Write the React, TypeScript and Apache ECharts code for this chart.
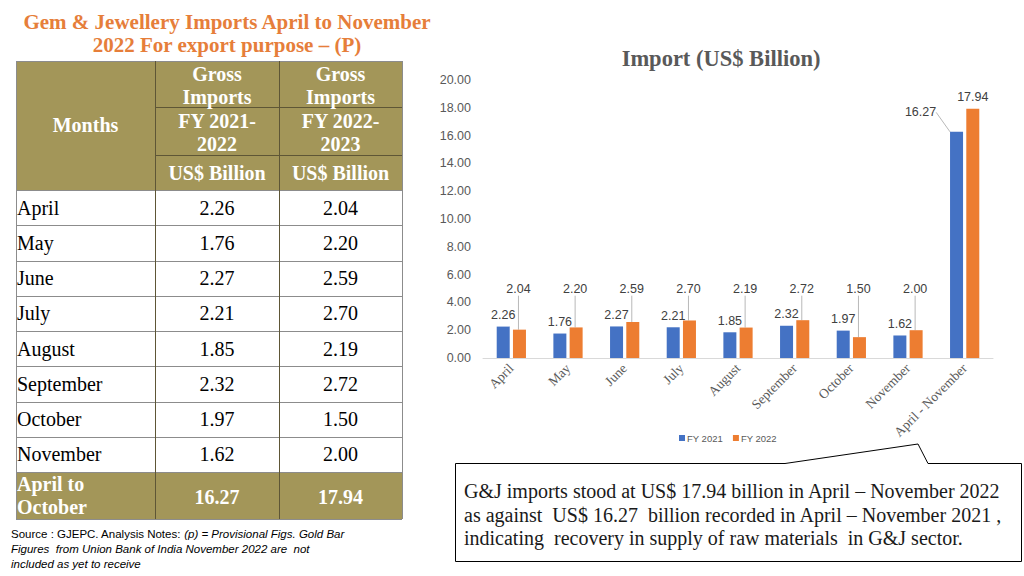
import React, { useEffect, useRef } from "react";
import * as echarts from "echarts";

const months = ["April", "May", "June", "July", "August", "September", "October", "November"];
const fy2021 = [2.26, 1.76, 2.27, 2.21, 1.85, 2.32, 1.97, 1.62];
const fy2022 = [2.04, 2.2, 2.59, 2.7, 2.19, 2.72, 1.5, 2.0];
const total2021 = 16.27;
const total2022 = 17.94;
const totalCategory = "April - November";
const totalRowLabel = "April to\nOctober";
const seriesNames = ["FY 2021", "FY 2022"];
const headerCol2 = ["Gross\nImports", "FY 2021-\n2022", "US$ Billion"];
const headerCol3 = ["Gross\nImports", "FY 2022-\n2023", "US$ Billion"];
const calloutLines = [
  "G&J imports stood at US$ 17.94 billion in April – November 2022",
  "as against  US$ 16.27  billion recorded in April – November 2021 ,",
  "indicating  recovery in supply of raw materials  in G&J sector.",
];

const SERIF = "'Liberation Serif', 'DejaVu Serif', serif";
const SANS = "'Liberation Sans', Arial, sans-serif";
const OLIVE = "#A39659";
const BLUE = "#4472C4";
const ORANGE = "#ED7D31";

function buildTable(): any[] {
  const L = 16, C1 = 155, C2 = 279, R = 402;
  const top = 61, h1 = 107, h2 = 155, hEnd = 190;
  const rowH = 35.25;
  const totalTop = hEnd + months.length * rowH;
  const totalBottom = totalTop + 47;
  const els: any[] = [];
  const gridLine = "#8C8C8C";
  const headLine = "#5E5636";
  els.push({ type: "rect", shape: { x: L, y: top, width: R - L, height: hEnd - top }, style: { fill: OLIVE } });
  els.push({ type: "rect", shape: { x: L, y: totalTop, width: R - L, height: totalBottom - totalTop }, style: { fill: OLIVE } });
  const hl = (x1: number, y1: number, x2: number, y2: number, c: string) =>
    els.push({ type: "line", shape: { x1, y1, x2, y2 }, style: { stroke: c, lineWidth: 1 } });
  hl(L + 0.5, top, L + 0.5, totalBottom, gridLine);
  hl(R + 0.5, top, R + 0.5, totalBottom, gridLine);
  hl(L, top + 0.5, R, top + 0.5, gridLine);
  for (let i = 0; i <= months.length; i++) {
    const y = Math.round(hEnd + i * rowH) + 0.5;
    hl(L, y, R, y, gridLine);
  }
  hl(L, totalBottom + 0.5, R, totalBottom + 0.5, gridLine);
  hl(C1 + 0.5, top, C1 + 0.5, totalBottom, headLine);
  hl(C2 + 0.5, top, C2 + 0.5, totalBottom, headLine);
  hl(C1, h1 + 0.5, R, h1 + 0.5, headLine);
  hl(C1, h2 + 0.5, R, h2 + 0.5, headLine);

  const headStyle = { fill: "#FFFFFF", font: `bold 20px ${SERIF}`, align: "center", verticalAlign: "middle", lineHeight: 23 };
  els.push({ type: "text", x: (L + C1) / 2, y: (top + hEnd) / 2 - 1, style: { ...headStyle, text: "Months" } });
  const hy = [(top + h1) / 2 + 1, (h1 + h2) / 2 + 1, (h2 + hEnd) / 2];
  headerCol2.forEach((t, i) => els.push({ type: "text", x: (C1 + C2) / 2, y: hy[i], style: { ...headStyle, text: t } }));
  headerCol3.forEach((t, i) => els.push({ type: "text", x: (C2 + R) / 2, y: hy[i], style: { ...headStyle, text: t } }));

  const cell = { fill: "#000000", font: `20px ${SERIF}`, verticalAlign: "middle" };
  months.forEach((m, i) => {
    const cy = hEnd + i * rowH + rowH / 2;
    els.push({ type: "text", x: L + 1, y: cy, style: { ...cell, text: m, align: "left" } });
    els.push({ type: "text", x: (C1 + C2) / 2, y: cy, style: { ...cell, text: fy2021[i].toFixed(2), align: "center" } });
    els.push({ type: "text", x: (C2 + R) / 2, y: cy, style: { ...cell, text: fy2022[i].toFixed(2), align: "center" } });
  });
  const tcy = (totalTop + totalBottom) / 2;
  const tot = { fill: "#FFFFFF", font: `bold 20px ${SERIF}`, verticalAlign: "middle", lineHeight: 23 };
  els.push({ type: "text", x: L + 1, y: tcy, style: { ...tot, text: totalRowLabel, align: "left" } });
  els.push({ type: "text", x: (C1 + C2) / 2, y: tcy + 1, style: { ...tot, text: total2021.toFixed(2), align: "center" } });
  els.push({ type: "text", x: (C2 + R) / 2, y: tcy + 1, style: { ...tot, text: total2022.toFixed(2), align: "center" } });
  return els;
}

function buildOthers(): any[] {
  const els: any[] = [];
  els.push({
    type: "text", x: 227, y: 33,
    style: { text: "Gem & Jewellery Imports April to November\n2022 For export purpose – (P)", fill: "#E67E3A", font: `bold 21px ${SERIF}`, align: "center", verticalAlign: "middle", lineHeight: 23 },
  });
  els.push({
    type: "text", x: 11, y: 526.5,
    style: {
      text: "{n|Source : GJEPC. Analysis Notes: }{i|(p) = Provisional Figs. Gold Bar}\n{i|Figures  from Union Bank of India November 2022 are  not}\n{i|included as yet to receive}",
      verticalAlign: "top", lineHeight: 15,
      rich: {
        n: { font: `11.5px ${SANS}`, fill: "#000000", lineHeight: 15 },
        i: { font: `italic 11.5px ${SANS}`, fill: "#000000", lineHeight: 15 },
      },
    },
  });
  els.push({
    type: "polygon",
    shape: { points: [[455.5, 463.5], [785, 463.5], [918, 444], [928, 463.5], [1021.5, 463.5], [1021.5, 561.5], [455.5, 561.5]] },
    style: { fill: "#FFFFFF", stroke: "#000000", lineWidth: 1 },
  });
  calloutLines.forEach((t, i) => {
    els.push({ type: "text", x: 464, y: 491 + i * 23.5, style: { text: t, fill: "#1A1A1A", font: `20px ${SERIF}`, verticalAlign: "middle", align: "left" } });
  });
  return els;
}

export default function App() {
  const ref = useRef<HTMLDivElement>(null);
  useEffect(() => {
    if (!ref.current) return;
    const chart = echarts.init(ref.current, undefined, { renderer: "svg" });
    const categories = [...months, totalCategory];
    const blueData = [...fy2021, total2021];
    const orangeData = [...fy2022, total2022];
    const labelValueLevel = 4.95;
    chart.setOption({
      animation: false,
      backgroundColor: "#FFFFFF",
      title: {
        text: "Import (US$ Billion)", left: 716, top: 42, textAlign: "center",
        textStyle: { fontFamily: SERIF, fontWeight: "bold", fontSize: 22.5, color: "#595959" },
      },
      legend: {
        data: seriesNames, left: 674, top: 428, itemWidth: 6, itemHeight: 6, itemGap: 10, icon: "rect",
        textStyle: { fontFamily: SANS, fontSize: 9.5, color: "#595959", padding: [0, 0, 0, -3] },
      },
      grid: { left: 483, right: 31, top: 80, bottom: 218 },
      xAxis: {
        type: "category", data: categories,
        axisLine: { lineStyle: { color: "#D9D9D9" } },
        axisTick: { show: false },
        axisLabel: { rotate: 45, interval: 0, fontFamily: SERIF, fontSize: 13.5, color: "#595959", margin: 8 },
      },
      yAxis: {
        type: "value", min: 0, max: 20, interval: 2,
        splitLine: { show: false },
        axisLine: { show: false }, axisTick: { show: false },
        axisLabel: { formatter: (v: number) => v.toFixed(2), fontFamily: SANS, fontSize: 12.5, color: "#595959", margin: 12 },
      },
      series: [
        {
          name: seriesNames[0], type: "bar", barWidth: 13, barGap: "25%",
          itemStyle: { color: BLUE },
          data: blueData.map((v, i) => ({ value: v, labelLine: { show: i === blueData.length - 1 } })),
          label: { show: true, position: "top", distance: 5, formatter: (p: any) => p.value.toFixed(2), fontFamily: SANS, fontSize: 12.5, color: "#404040" },
          labelLine: { show: false, lineStyle: { color: "#A6A6A6", width: 0.8 } },
          labelLayout: (p: any) => (p.dataIndex === blueData.length - 1 ? { dx: -36, dy: -8 } : {}),
        },
        {
          name: seriesNames[1], type: "bar", barWidth: 13,
          itemStyle: { color: ORANGE },
          data: orangeData.map((v, i) => ({ value: v, labelLine: { show: i !== orangeData.length - 1 } })),
          label: { show: true, position: "top", distance: 5, formatter: (p: any) => p.value.toFixed(2), fontFamily: SANS, fontSize: 12.5, color: "#404040" },
          labelLine: { show: true, lineStyle: { color: "#A6A6A6", width: 0.8 } },
          labelLayout: (p: any) => {
            if (p.dataIndex === orangeData.length - 1) return {};
            const v = orangeData[p.dataIndex];
            const ppu = p.rect.height / v;
            const bottom = p.rect.y + p.rect.height;
            return { x: p.rect.x + p.rect.width / 2 - 1, y: bottom - labelValueLevel * ppu, align: "center", verticalAlign: "middle" };
          },
        },
      ],
      graphic: [...buildTable(), ...buildOthers()],
    });
    return () => chart.dispose();
  }, []);
  return <div ref={ref} style={{ position: "absolute", left: 0, top: 0, width: 1024, height: 576 }} />;
}
